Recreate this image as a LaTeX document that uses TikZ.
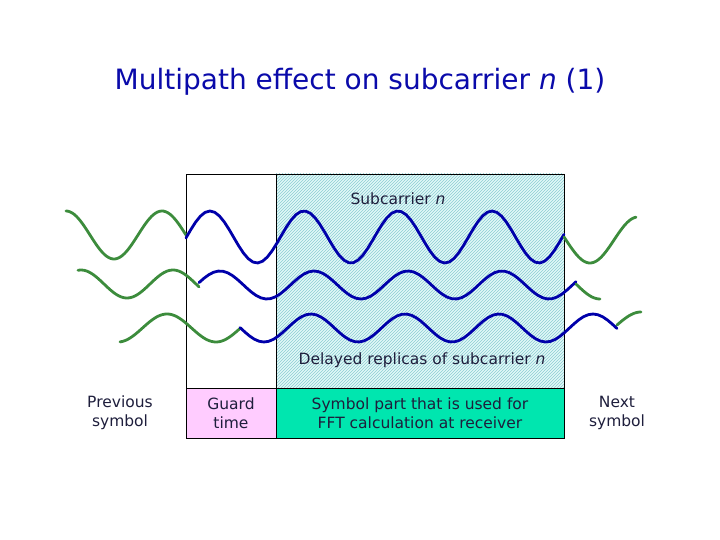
\documentclass[tikz,border=0pt]{standalone}
\usepackage{fontspec}
\setmainfont{DejaVu Sans}
\usetikzlibrary{patterns}
\definecolor{tblue}{RGB}{10,10,170}
\definecolor{wblue}{RGB}{0,0,170}
\definecolor{wgreen}{RGB}{60,140,60}
\definecolor{hatchbg}{RGB}{225,248,248}
\definecolor{hatchln}{RGB}{140,205,210}
\definecolor{pinkf}{RGB}{255,204,255}
\definecolor{greenf}{RGB}{0,230,175}
\definecolor{txt}{RGB}{30,30,60}
\begin{document}
\begin{tikzpicture}[x=1pt,y=-1pt,
  bw/.style={wblue,line width=2.8pt,line join=round,line cap=round,samples=80},
  gw/.style={wgreen,line width=2.8pt,line join=round,line cap=round,samples=60},
  lbl/.style={font=\fontsize{15.5}{19}\selectfont,text=txt,align=center}]
\useasboundingbox (0,0) rectangle (720,540);
\node[font=\fontsize{28}{33}\selectfont,text=tblue] (title) at (360,82) {Multipath effect on subcarrier \textit{n} (1)};
% hatched area
\fill[hatchbg] (276,174) rectangle (564,388);
\fill[pattern=north east lines,pattern color=hatchln] (276,174) rectangle (564,388);
\fill[pinkf] (186,388) rectangle (276,438);
\fill[greenf] (276,388) rectangle (564,438);
\draw[black,line width=0.8pt] (186,174) rectangle (564,438);
\draw[black,line width=0.8pt] (276,174) -- (276,438);
\draw[black,line width=0.8pt] (186,388) -- (564,388);
% wave 1
\draw[gw] plot[domain=66:186] (\x,{235-24*cos(3.75*(\x-162))});
\draw[bw] plot[domain=186:564] (\x,{237-26*cos(3.83*(\x-210))});
\draw[gw] plot[domain=564:636] (\x,{240+23*cos(3.75*(\x-590))});
% wave 2
\draw[gw] plot[domain=78:199] (\x,{284-14*cos(3.913*(\x-173))});
\draw[bw] plot[domain=199:576] (\x,{285-14*cos(3.83*(\x-220))});
\draw[gw] plot[domain=576:600] (\x,{285+14*cos(3.913*(\x-600))});
% wave 3
\draw[gw] plot[domain=120:240] (\x,{328-14*cos(3.673*(\x-167))});
\draw[bw] plot[domain=240:617] (\x,{328+14*cos(3.83*(\x-264))});
\draw[gw] plot[domain=617:641] (\x,{325-13*sin(3.75*(\x-617))});
% labels
\node[lbl] (sub) at (398,199) {Subcarrier \textit{n}};
\node[lbl] (del) at (422,360) {Delayed replicas of subcarrier \textit{n}};
\node[lbl] (prev) at (120,413) {Previous\\symbol};
\node[lbl] (guard) at (231,413) {Guard\\time};
\node[lbl] (fft) at (420,413) {Symbol part that is used for\\FFT calculation at receiver};
\node[lbl] (next) at (617,413) {Next\\symbol};
\end{tikzpicture}
\end{document}
